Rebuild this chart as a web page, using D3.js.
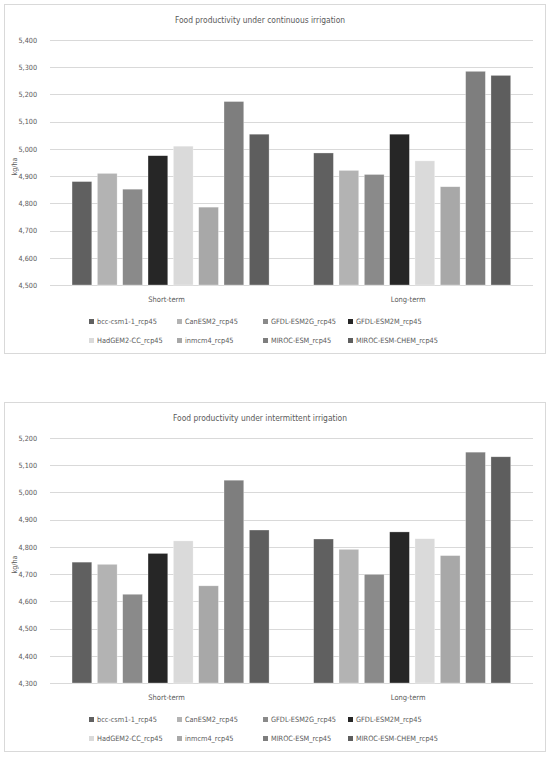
<!DOCTYPE html>
<html>
<head>
<meta charset="utf-8">
<script src="https://cdn.jsdelivr.net/npm/d3@7"></script>
<style>
  html, body { margin: 0; padding: 0; background: #fff; }
  svg { display: block; }
  text { font-family: "Liberation Sans Narrow", "Arial Narrow", "DejaVu Sans Condensed", sans-serif; fill: #595959; }
</style>
</head>
<body>
<svg id="chart" width="550" height="760"></svg>
<script>
// ---- data ----
const categories = ["Short-term", "Long-term"];
const models = ["bcc-csm1-1_rcp45", "CanESM2_rcp45", "GFDL-ESM2G_rcp45", "GFDL-ESM2M_rcp45",
                "HadGEM2-CC_rcp45", "inmcm4_rcp45", "MIROC-ESM_rcp45", "MIROC-ESM-CHEM_rcp45"];
const modelColors = ["#606060", "#b3b3b3", "#8a8a8a", "#262626", "#dadada", "#a8a8a8", "#7e7e7e", "#5e5e5e"];

const continuousShort = [4880, 4910, 4852, 4975, 5010, 4786, 5174, 5054];
const continuousLong  = [4985, 4921, 4906, 5054, 4956, 4861, 5285, 5270];
const intermittentShort = [4744, 4736, 4626, 4776, 4822, 4657, 5045, 4862];
const intermittentLong  = [4829, 4791, 4699, 4855, 4830, 4768, 5148, 5131];

const continuousTicks = [4500, 4600, 4700, 4800, 4900, 5000, 5100, 5200, 5300, 5400];
const intermittentTicks = [4300, 4400, 4500, 4600, 4700, 4800, 4900, 5000, 5100, 5200];

const titles = ["Food productivity under continuous irrigation", "Food productivity under intermittent irrigation"];
const yTitle = "kg/ha";

// ---- drawing ----
const svg = d3.select("#chart");
const fmt = d3.format(",");

function drawChart(top, title, shortVals, longVals, ticks) {
  const g = svg.append("g").attr("transform", `translate(0,${top})`);
  g.append("rect").attr("x", 4.5).attr("y", 0.5).attr("width", 541).attr("height", 349)
    .attr("fill", "#fff").attr("stroke", "#d9d9d9");

  g.append("text").attr("x", 260).attr("y", 16).attr("text-anchor", "middle")
    .attr("dominant-baseline", "middle").style("font-size", "8.4px").text(title);

  const y = d3.scaleLinear().domain([ticks[0], ticks[ticks.length - 1]]).range([281, 36]);
  const x0 = d3.scaleBand().domain(categories).range([49.75, 533]).padding(0);
  const x1 = d3.scaleBand().domain(models).range([0, x0.bandwidth()]).paddingInner(0.22).paddingOuter(0.88);

  // gridlines
  g.append("g").selectAll("line").data(ticks).join("line")
    .attr("x1", 50).attr("x2", 533)
    .attr("y1", d => Math.round(y(d)) + 0.5).attr("y2", d => Math.round(y(d)) + 0.5)
    .attr("stroke", "#d9d9d9").attr("stroke-width", 1);

  // y axis labels via d3 axis
  const yAxis = g.append("g").attr("transform", "translate(40,0)")
    .call(d3.axisLeft(y).tickValues(ticks).tickFormat(fmt).tickSize(0).tickPadding(3));
  yAxis.select(".domain").remove();
  yAxis.selectAll("text").style("font-size", "7.2px").attr("fill", "#595959")
    .style("font-family", "'Liberation Sans Narrow', 'Arial Narrow', 'DejaVu Sans Condensed', sans-serif");

  // y title
  g.append("text").attr("transform", `translate(15,${(y.range()[0] + y.range()[1]) / 2 + 4}) rotate(-90)`)
    .attr("text-anchor", "middle").attr("dominant-baseline", "middle")
    .style("font-size", "7.2px").text(yTitle);

  // bars
  const rows = [shortVals, longVals];
  const groups = g.append("g").selectAll("g").data(categories).join("g")
    .attr("transform", d => `translate(${x0(d)},0)`);
  groups.selectAll("rect").data((c, i) => models.map((m, j) => ({ m, v: rows[i][j], j })))
    .join("rect")
    .attr("x", d => x1(d.m)).attr("width", x1.bandwidth())
    .attr("y", d => y(d.v)).attr("height", d => y.range()[0] - y(d.v))
    .attr("fill", d => modelColors[d.j])
    .attr("stroke", "#ffffff").attr("stroke-opacity", 0.5).attr("stroke-width", 0.6);

  // category labels
  g.append("g").selectAll("text").data(categories).join("text")
    .attr("x", d => x0(d) + x0.bandwidth() / 2 - 4).attr("y", 296)
    .attr("text-anchor", "middle").attr("dominant-baseline", "middle")
    .style("font-size", "7.5px").text(d => d);

  // legend
  const colX = [89, 177, 263, 348];
  const rowY = [318, 337];
  const leg = g.append("g").selectAll("g").data(models).join("g")
    .attr("transform", (d, i) => `translate(${colX[i % 4]},${rowY[Math.floor(i / 4)]})`);
  leg.append("rect").attr("x", 0).attr("y", -3).attr("width", 5).attr("height", 5)
    .attr("fill", (d, i) => modelColors[i]);
  leg.append("text").attr("x", 8).attr("y", 0).attr("dominant-baseline", "middle")
    .style("font-size", "7.3px").text(d => d);
}

drawChart(4, titles[0], continuousShort, continuousLong, continuousTicks);
drawChart(402, titles[1], intermittentShort, intermittentLong, intermittentTicks);
</script>
</body>
</html>
